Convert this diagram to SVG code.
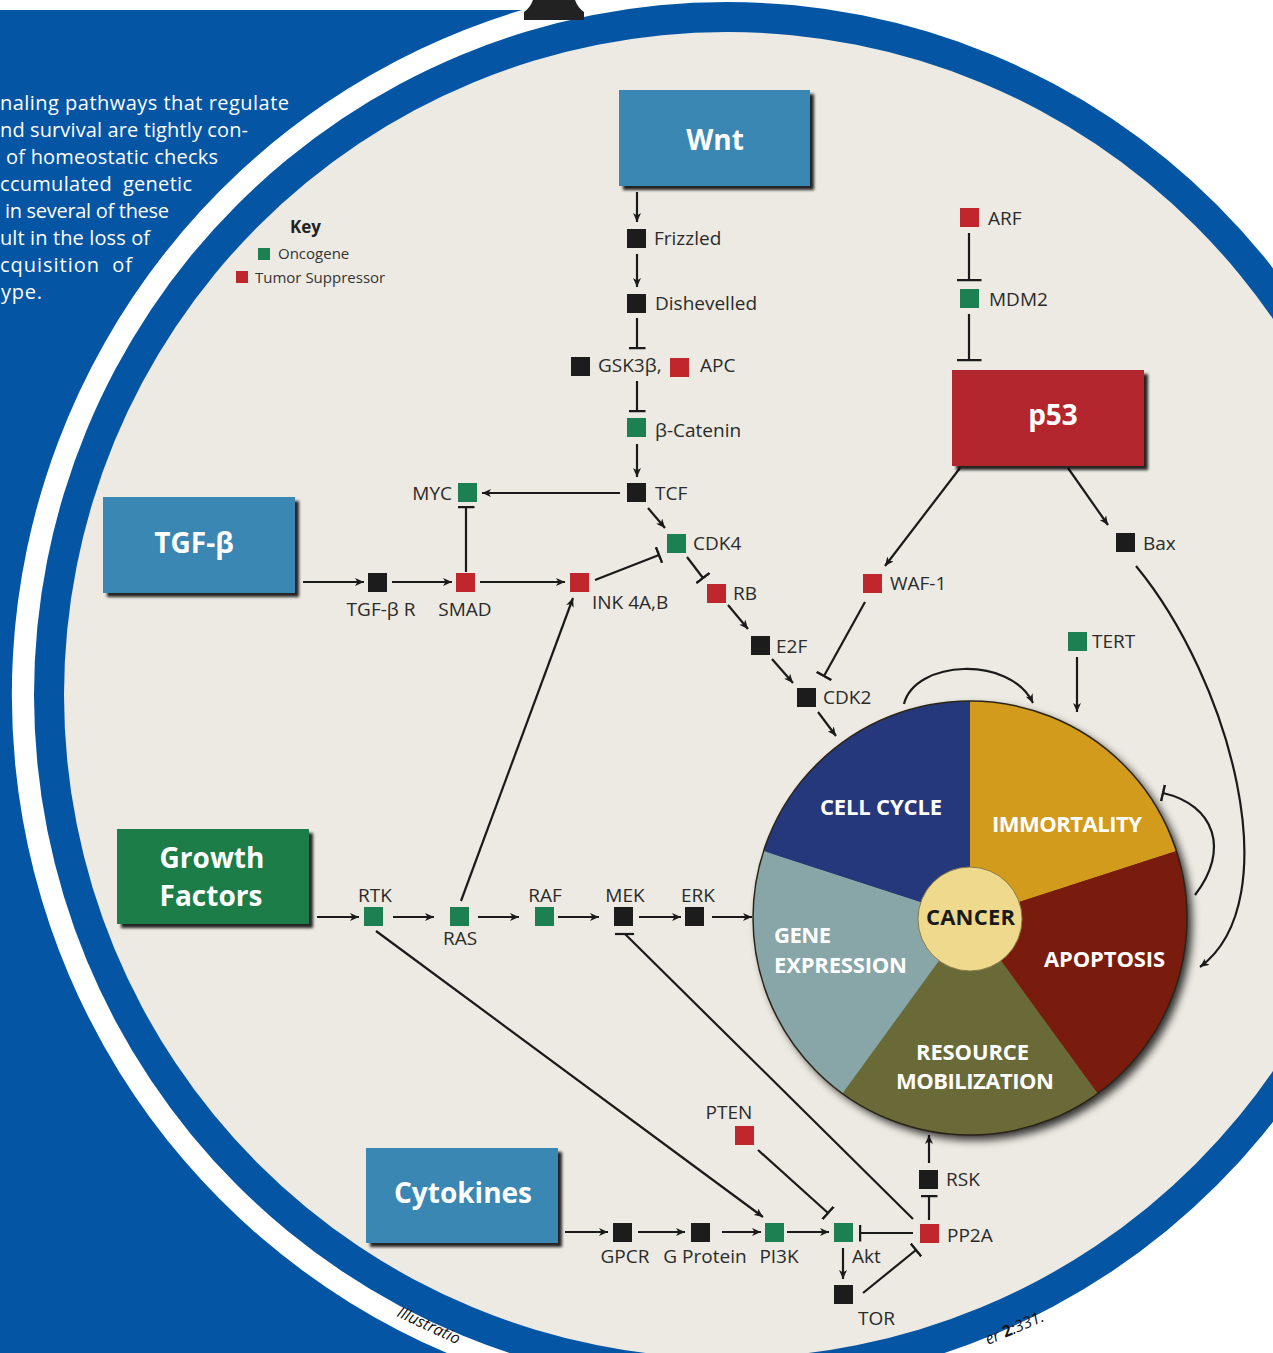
<svg xmlns="http://www.w3.org/2000/svg" width="1273" height="1353" viewBox="0 0 1273 1353">
<style>
.lbl{font-family:"Open Sans","Liberation Sans",sans-serif;font-size:19px;fill:#2a2a2a}
.mid{text-anchor:middle}
.box{font-family:"Open Sans","Liberation Sans",sans-serif;font-size:28px;font-weight:bold;fill:#ffffff;text-anchor:middle}
.pie{font-family:"Open Sans","Liberation Sans",sans-serif;font-size:22px;font-weight:bold;fill:#ffffff}
.side{font-family:"Open Sans","Liberation Sans",sans-serif;font-size:20px;fill:#ffffff;white-space:pre}
.key{font-family:"Open Sans","Liberation Sans",sans-serif;font-size:15px;fill:#333333}
.cite{font-family:"Open Sans","Liberation Sans",sans-serif;font-size:16px;font-style:italic;fill:#111111}
.blk{fill:#1c1c1c}.grn{fill:#1d8052}.red{fill:#c0272d}
.c{fill:none;stroke:#1a1a1a;stroke-width:2.2}
.a{marker-end:url(#arr)}.t{marker-end:url(#bar)}.tl{marker-end:url(#barL)}
</style>
<defs>
<marker id="arr" viewBox="0 0 9 8" refX="9" refY="4" markerWidth="9" markerHeight="8" markerUnits="userSpaceOnUse" orient="auto"><path d="M0,0 L9,4 L0,8 L2.5,4 Z" fill="#1a1a1a"/></marker>
<marker id="bar" viewBox="0 0 3 17" refX="1.5" refY="8.5" markerWidth="3" markerHeight="17" markerUnits="userSpaceOnUse" orient="auto"><path d="M1.5,0 V17" stroke="#1a1a1a" stroke-width="2.5"/></marker>
<marker id="barL" viewBox="0 0 3 25" refX="1.5" refY="12.5" markerWidth="3" markerHeight="25" markerUnits="userSpaceOnUse" orient="auto"><path d="M1.5,0 V25" stroke="#1a1a1a" stroke-width="2.5"/></marker>
<filter id="sh" x="-10%" y="-10%" width="130%" height="130%"><feGaussianBlur in="SourceAlpha" stdDeviation="1.8"/><feOffset dx="4" dy="4"/><feComponentTransfer><feFuncA type="linear" slope="0.85"/></feComponentTransfer><feMerge><feMergeNode/><feMergeNode in="SourceGraphic"/></feMerge></filter>
<filter id="psh" x="-10%" y="-10%" width="130%" height="130%"><feGaussianBlur in="SourceAlpha" stdDeviation="4"/><feOffset dx="5" dy="5"/><feComponentTransfer><feFuncA type="linear" slope="0.8"/></feComponentTransfer><feMerge><feMergeNode/><feMergeNode in="SourceGraphic"/></feMerge></filter>
</defs>

<g id="background">
<rect x="0" y="0" width="1273" height="1353" fill="#ffffff"/>
<path d="M0,10 L522,10 A715,715 0 0 0 447,1353 L0,1353 Z" fill="#0455a4"/>
<circle cx="727" cy="695" r="693" fill="#0455a4"/>
<circle cx="727" cy="695" r="663" fill="#edeae3"/>
<path d="M533,0 L575,0 Q578,8 584,12 L584,20 L524,20 L524,12 Q530,8 533,0 Z" fill="#222222"/>
</g>

<g id="side-text">
<text class="side" x="0" y="110" textLength="289">naling pathways that regulate</text>
<text class="side" x="0" y="137" textLength="248">nd survival are tightly con-</text>
<text class="side" x="6" y="164" textLength="212">of homeostatic checks</text>
<text class="side" x="0" y="191" textLength="192">ccumulated  genetic</text>
<text class="side" x="5" y="218" textLength="164">in several of these</text>
<text class="side" x="0" y="245" textLength="150">ult in the loss of</text>
<text class="side" x="0" y="272" textLength="132">cquisition  of</text>
<text class="side" x="1" y="299" textLength="41">ype.</text>
</g>

<g id="key">
<text x="290" y="233" font-family="Open Sans, Liberation Sans, sans-serif" font-size="17" font-weight="bold" fill="#222">Key</text>
<rect x="258" y="248" width="12" height="12" class="grn"/>
<text class="key" x="278" y="259">Oncogene</text>
<rect x="236" y="271" width="12" height="12" class="red"/>
<text class="key" x="255" y="283">Tumor Suppressor</text>
</g>

<g id="connectors">
<path class="c a" d="M637,192 V222"/>
<path class="c a" d="M637,254 V287"/>
<path class="c t" d="M637,318 V348"/>
<path class="c t" d="M637,381 V411"/>
<path class="c a" d="M637,444 V477"/>
<path class="c a" d="M620,493 H482"/>
<path class="c a" d="M648,508 L665,528"/>
<path class="c t" d="M595,580 L659,555"/>
<path class="c t" d="M687,557 L703,578"/>
<path class="c a" d="M728,605 L748,629"/>
<path class="c a" d="M772,659 L793,683"/>
<path class="c a" d="M818,712 L836,736"/>
<path class="c a" d="M303,582 H364"/>
<path class="c a" d="M392,582 H452"/>
<path class="c a" d="M480,582 H565"/>
<path class="c t" d="M466,572 V507"/>
<path class="c a" d="M461,901 L573,598"/>
<path class="c tl" d="M969,233 V280"/>
<path class="c tl" d="M969,314 V360"/>
<path class="c a" d="M960,468 L885,566"/>
<path class="c a" d="M1068,468 L1108,525"/>
<path class="c t" d="M865,602 L824,676"/>
<path class="c a" d="M1136,566 C1230,680 1290,900 1200,967"/>
<path class="c a" d="M1077,657 V712"/>
<path class="c a" d="M904,704 C915,660 1010,655 1033,703"/>
<path class="c t" d="M1195,895 C1230,850 1215,805 1163,793"/>
<path class="c a" d="M317,917 H359"/>
<path class="c a" d="M393,917 H434"/>
<path class="c a" d="M478,917 H519"/>
<path class="c a" d="M558,917 H599"/>
<path class="c a" d="M639,917 H681"/>
<path class="c a" d="M712,917 H752"/>
<path class="c a" d="M376,931 L763,1217"/>
<path class="c" d="M913,1219 L625,934"/>
<path class="c" d="M615,934 H634" stroke-width="2.5"/>
<path class="c a" d="M565,1232 H608"/>
<path class="c a" d="M638,1232 H685"/>
<path class="c a" d="M722,1232 H761"/>
<path class="c a" d="M787,1232 H829"/>
<path class="c t" d="M913,1233 H860"/>
<path class="c t" d="M758,1150 L828,1213"/>
<path class="c a" d="M843,1248 V1279"/>
<path class="c t" d="M863,1293 L916,1250"/>
<path class="c t" d="M929,1220 V1196"/>
<path class="c a" d="M929,1163 V1135"/>
</g>

<g id="node-wnt"><rect x="619" y="90" width="191" height="96" fill="#3b87b3" filter="url(#sh)"/><text class="box" x="715" y="150">Wnt</text></g>
<g id="node-p53"><rect x="952" y="370" width="192" height="96" fill="#b3282d" filter="url(#sh)"/><text class="box" x="1053" y="425">p53</text></g>
<g id="node-tgfb"><rect x="103" y="497" width="192" height="96" fill="#3b87b3" filter="url(#sh)"/><text class="box" x="194" y="553">TGF-β</text></g>
<g id="node-growth"><rect x="117" y="829" width="192" height="95" fill="#1d7d48" filter="url(#sh)"/><text class="box" x="212" y="868">Growth</text><text class="box" x="211" y="906">Factors</text></g>
<g id="node-cytokines"><rect x="366" y="1148" width="192" height="95" fill="#3b87b3" filter="url(#sh)"/><text class="box" x="463" y="1203">Cytokines</text></g>

<g id="node-frizzled"><rect x="627" y="229" width="19" height="19" class="blk"/><text class="lbl" x="654" y="245">Frizzled</text></g>
<g id="node-dishevelled"><rect x="627" y="294" width="19" height="19" class="blk"/><text class="lbl" x="655" y="310">Dishevelled</text></g>
<g id="node-gsk3b"><rect x="571" y="357" width="19" height="19" class="blk"/><text class="lbl" x="598" y="372">GSK3β,</text></g>
<g id="node-apc"><rect x="670" y="358" width="19" height="19" class="red"/><text class="lbl" x="700" y="372">APC</text></g>
<g id="node-bcatenin"><rect x="627" y="418" width="19" height="19" class="grn"/><text class="lbl" x="655" y="437">β-Catenin</text></g>
<g id="node-tcf"><rect x="627" y="483" width="19" height="19" class="blk"/><text class="lbl" x="655" y="500">TCF</text></g>
<g id="node-myc"><rect x="458" y="483" width="19" height="19" class="grn"/><text class="lbl" x="452" y="500" text-anchor="end">MYC</text></g>
<g id="node-cdk4"><rect x="667" y="534" width="19" height="19" class="grn"/><text class="lbl" x="693" y="550">CDK4</text></g>
<g id="node-rb"><rect x="707" y="584" width="19" height="19" class="red"/><text class="lbl" x="733" y="600">RB</text></g>
<g id="node-e2f"><rect x="751" y="636" width="19" height="19" class="blk"/><text class="lbl" x="776" y="653">E2F</text></g>
<g id="node-cdk2"><rect x="797" y="688" width="19" height="19" class="blk"/><text class="lbl" x="823" y="704">CDK2</text></g>
<g id="node-tgfbr"><rect x="368" y="573" width="19" height="19" class="blk"/><text class="lbl mid" x="381" y="616">TGF-β R</text></g>
<g id="node-smad"><rect x="456" y="573" width="19" height="19" class="red"/><text class="lbl mid" x="465" y="616">SMAD</text></g>
<g id="node-ink"><rect x="570" y="573" width="19" height="19" class="red"/><text class="lbl" x="592" y="609">INK 4A,B</text></g>
<g id="node-waf1"><rect x="863" y="574" width="19" height="19" class="red"/><text class="lbl" x="890" y="590">WAF-1</text></g>
<g id="node-arf"><rect x="960" y="208" width="19" height="19" class="red"/><text class="lbl" x="988" y="225">ARF</text></g>
<g id="node-mdm2"><rect x="960" y="289" width="19" height="19" class="grn"/><text class="lbl" x="989" y="306">MDM2</text></g>
<g id="node-bax"><rect x="1116" y="533" width="19" height="19" class="blk"/><text class="lbl" x="1143" y="550">Bax</text></g>
<g id="node-tert"><rect x="1068" y="632" width="19" height="19" class="grn"/><text class="lbl" x="1092" y="648">TERT</text></g>
<g id="node-rtk"><rect x="364" y="907" width="19" height="19" class="grn"/><text class="lbl mid" x="375" y="902">RTK</text></g>
<g id="node-ras"><rect x="450" y="907" width="19" height="19" class="grn"/><text class="lbl mid" x="460" y="945">RAS</text></g>
<g id="node-raf"><rect x="535" y="907" width="19" height="19" class="grn"/><text class="lbl mid" x="545" y="902">RAF</text></g>
<g id="node-mek"><rect x="614" y="907" width="19" height="19" class="blk"/><text class="lbl mid" x="625" y="902">MEK</text></g>
<g id="node-erk"><rect x="685" y="907" width="19" height="19" class="blk"/><text class="lbl mid" x="698" y="902">ERK</text></g>
<g id="node-pten"><rect x="735" y="1126" width="19" height="19" class="red"/><text class="lbl mid" x="729" y="1119">PTEN</text></g>
<g id="node-gpcr"><rect x="613" y="1223" width="19" height="19" class="blk"/><text class="lbl mid" x="625" y="1263">GPCR</text></g>
<g id="node-gprotein"><rect x="691" y="1223" width="19" height="19" class="blk"/><text class="lbl mid" x="705" y="1263">G Protein</text></g>
<g id="node-pi3k"><rect x="765" y="1223" width="19" height="19" class="grn"/><text class="lbl mid" x="779" y="1263">PI3K</text></g>
<g id="node-akt"><rect x="834" y="1223" width="19" height="19" class="grn"/><text class="lbl" x="852" y="1263">Akt</text></g>
<g id="node-pp2a"><rect x="920" y="1224" width="19" height="19" class="red"/><text class="lbl" x="947" y="1242">PP2A</text></g>
<g id="node-rsk"><rect x="919" y="1170" width="19" height="19" class="blk"/><text class="lbl" x="946" y="1186">RSK</text></g>
<g id="node-tor"><rect x="834" y="1285" width="19" height="19" class="blk"/><text class="lbl" x="858" y="1325">TOR</text></g>

<g id="node-cancer-pie">
<g filter="url(#psh)">
<path d="M970,918 L970,701 A217,217 0 0 1 1176.4,850.9 Z" fill="#d39b1d"/>
<path d="M970,918 L1176.4,850.9 A217,217 0 0 1 1097.6,1093.6 Z" fill="#7a1c0e"/>
<path d="M970,918 L1097.6,1093.6 A217,217 0 0 1 842.4,1093.6 Z" fill="#6a6a37"/>
<path d="M970,918 L842.4,1093.6 A217,217 0 0 1 763.6,850.9 Z" fill="#88a6a7"/>
<path d="M970,918 L763.6,850.9 A217,217 0 0 1 970,701 Z" fill="#27387c"/>
</g>
<circle cx="970" cy="918" r="217" fill="none" stroke="#2a2418" stroke-width="1.5"/>
<circle cx="970" cy="919" r="52" fill="#efd98c" stroke="#8a7a45" stroke-width="1"/>
<text class="pie" x="820" y="815" textLength="122">CELL CYCLE</text>
<text class="pie" x="992" y="832" textLength="150">IMMORTALITY</text>
<text class="pie" x="926" y="925" textLength="89" style="fill:#1a1a1a">CANCER</text>
<text class="pie" x="774" y="943" textLength="57">GENE</text>
<text class="pie" x="774" y="973" textLength="133">EXPRESSION</text>
<text class="pie" x="1044" y="967" textLength="121">APOPTOSIS</text>
<text class="pie" x="916" y="1060" textLength="113">RESOURCE</text>
<text class="pie" x="896" y="1089" textLength="158">MOBILIZATION</text>
</g>

<g id="citation">
<text class="cite" transform="translate(396,1316) rotate(25)">Illustratio</text>
<text class="cite" transform="translate(988,1345) rotate(-23)">er <tspan font-weight="bold" font-style="normal">2</tspan>:331.</text>
</g>
</svg>
